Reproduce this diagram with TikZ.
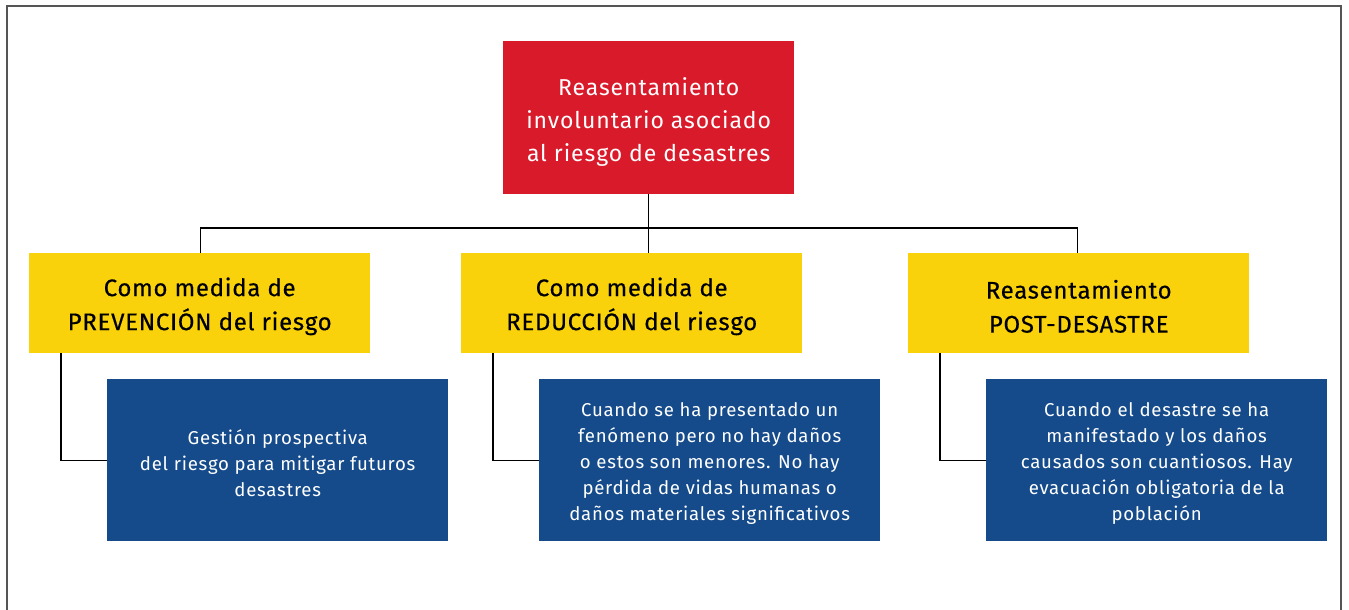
\documentclass[tikz,border=0pt]{standalone}
\usepackage{fontspec}
\setmainfont{Fira Sans}[LetterSpace=4]
\newfontfamily\yelfont{Fira Sans}[LetterSpace=3,FakeBold=0.4]
\definecolor{cred}{RGB}{217,26,42}
\definecolor{cyellow}{RGB}{249,210,12}
\definecolor{cblue}{RGB}{21,75,138}
\definecolor{cframe}{RGB}{85,85,85}
\newcommand{\topstrut}[1]{\rule{0pt}{#1}}
\begin{document}
\begin{tikzpicture}[x=1pt,y=-1pt,
  redbox/.style={fill=cred,text=white,anchor=north west,inner sep=0pt,
    minimum width=291pt,minimum height=153pt,align=center,
    font=\fontsize{23}{33}\selectfont},
  yelbox/.style={fill=cyellow,text=black,anchor=north west,inner sep=0pt,
    minimum width=341pt,minimum height=100pt,align=center,
    font=\yelfont\fontsize{24}{34}\selectfont},
  bluebox/.style={fill=cblue,text=white,anchor=north west,inner sep=0pt,
    minimum width=341pt,minimum height=162pt,align=center,
    font=\fontsize{18.6}{26}\selectfont},
  conn/.style={draw=black,line width=1.3pt},
]
\useasboundingbox (0,0) rectangle (1349,610);
\draw[cframe,line width=2pt] (7,611) -- (7,6) -- (1341,6) -- (1341,611);

\node[redbox] (red) at (503,41) {\topstrut{26pt}Reasentamiento\\involuntario asociado\\al riesgo de desastres};

\node[yelbox] (y1) at (29,253) {\topstrut{25pt}Como medida de\\PREVENCIÓN del riesgo};
\node[yelbox] (y2) at (461,253) {\topstrut{25pt}Como medida de\\REDUCCIÓN del riesgo};
\node[yelbox] (y3) at (908,253) {\topstrut{25pt}Reasentamiento\\POST-DESASTRE};

\node[bluebox] (b1) at (107,379) {\topstrut{20pt}Gestión prospectiva\\del riesgo para mitigar futuros\\desastres};
\node[bluebox] (b2) at (539,379) {\topstrut{20pt}Cuando se ha presentado un\\fenómeno pero no hay daños\\o estos son menores. No hay\\pérdida de vidas humanas o\\daños materiales significativos};
\node[bluebox] (b3) at (986,379) {\topstrut{20pt}Cuando el desastre se ha\\manifestado y los daños\\causados son cuantiosos. Hay\\evacuación obligatoria de la\\población};

\coordinate (hb) at (0,228);
\draw[conn] (red.south) -- (red.south |- y2.north);
\draw[conn] ([xshift=1pt]y1.north) -- ([xshift=1pt]y1.north |- hb) -- ([xshift=-1pt]y3.north |- hb) -- ([xshift=-1pt]y3.north);

\coordinate (c1) at (61,0);
\coordinate (c2) at (493,0);
\coordinate (c3) at (940,0);
\draw[conn] (c1 |- y1.south) -- (c1 |- b1.west) -- (b1.west);
\draw[conn] (c2 |- y2.south) -- (c2 |- b2.west) -- (b2.west);
\draw[conn] (c3 |- y3.south) -- (c3 |- b3.west) -- (b3.west);
\end{tikzpicture}
\end{document}
